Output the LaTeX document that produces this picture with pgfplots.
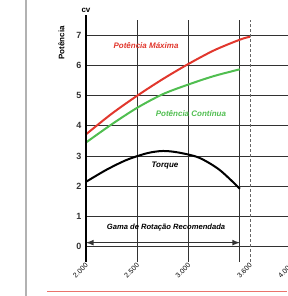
\documentclass[border=0pt]{standalone}
\usepackage{pgfplots}
\pgfplotsset{compat=1.18}
\usepackage{fontspec}
\setmainfont{Liberation Sans}
\definecolor{cred}{RGB}{225,55,45}
\definecolor{cgreen}{RGB}{80,190,80}
\definecolor{cgrid}{RGB}{50,50,50}
\begin{document}
\begin{tikzpicture}
\begin{axis}[
  at={(0,0)}, anchor=south west,
  scale only axis, width=205.2pt, height=242pt,
  xmin=2000, xmax=4000, ymin=-0.5, ymax=7.5,
  clip=false,
  axis line style={draw=none},
  major tick length=0pt,
  xtick={2000,2500,3000,3600,4000},
  xticklabels={2.000,2.500,3.000,3.600,4.000},
  x tick label style={rotate=45, anchor=east, font=\fontsize{7}{8}\selectfont, inner sep=1pt, yshift=-2pt},
  ytick={0,1,2,3,4,5,6,7},
  y tick label style={font=\fontsize{9}{10}\selectfont\bfseries, text=cgrid, xshift=-1pt},
  /pgf/number format/assume math mode=true,
  ymajorgrids,
  major grid style={cgrid, line width=1pt},
  extra x ticks={2000,2500,3000,3500},
  extra x tick labels={},
  extra x tick style={grid=major, major grid style={cgrid, line width=1pt}},
]
% data
\addplot[cred, line width=2pt, smooth] coordinates {
 (2000,3.72) (2250,4.4) (2500,5.0) (2750,5.55) (3000,6.05) (3250,6.5) (3500,6.85) (3600,6.95)};
\addplot[cgreen, line width=2pt, smooth] coordinates {
 (2000,3.45) (2250,4.05) (2500,4.6) (2750,5.05) (3000,5.37) (3250,5.65) (3500,5.87)};
\addplot[black, line width=2pt, smooth] coordinates {
 (2000,2.15) (2200,2.55) (2400,2.88) (2600,3.1) (2750,3.17) (2900,3.12) (3100,2.95) (3300,2.55) (3500,1.92)};
\addplot[black!80, line width=1.6pt, <->, >=latex] coordinates {(2000,0.14) (3500,0.14)};
\addplot[black!60, densely dashed, line width=0.7pt] coordinates {(3600,-0.5) (3600,7.5)};
\addplot[black, line width=1.3pt] coordinates {(2000,-0.5) (2000,7.65)};
% labels
\node[font=\fontsize{8}{9}\selectfont\bfseries\itshape, text=cred] at (axis cs:2585,6.65) {Potência Máxima};
\node[font=\fontsize{8}{9}\selectfont\bfseries\itshape, text=cgreen] at (axis cs:3023,4.4) {Potência Contínua};
\node[font=\fontsize{8}{9}\selectfont\bfseries\itshape] at (axis cs:2770,2.7) {Torque};
\node[font=\fontsize{7.6}{8}\selectfont\bfseries\itshape] at (axis cs:2780,0.63) {Gama de Rotação Recomendada};
\node[font=\fontsize{8}{9}\selectfont\bfseries] at (axis cs:2000,7.82) {cv};
\node[font=\fontsize{8}{9}\selectfont\bfseries, rotate=90] at (axis cs:1760,6.75) {Potência};
\end{axis}
\draw[black!30, line width=1.3pt] (-60pt,-34pt) -- (-60pt,262pt);
\draw[cred!70, line width=1pt] (-39pt,-29pt) -- (201pt,-29pt);
\pgfresetboundingbox
\path[use as bounding box] (-86pt,-34pt) rectangle (201pt,262pt);
\end{tikzpicture}
\end{document}
